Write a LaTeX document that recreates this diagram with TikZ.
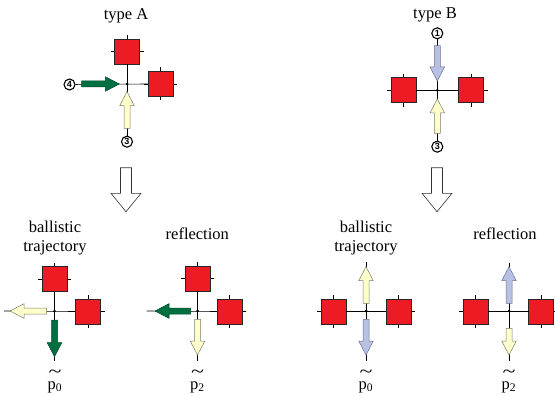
\documentclass[tikz,border=0pt]{standalone}
\usepackage{graphicx}
\usepackage{fontspec}
\setmainfont{Liberation Serif}
\newfontfamily\numfont{Liberation Sans}
\definecolor{boxred}{RGB}{237,28,36}
\definecolor{arrgreen}{RGB}{0,112,64}
\definecolor{greenedge}{RGB}{0,70,40}
\definecolor{arryellow}{RGB}{255,255,204}
\definecolor{yellowedge}{RGB}{125,125,105}
\definecolor{arrblue}{RGB}{184,192,228}
\definecolor{blueedge}{RGB}{110,115,140}
\tikzset{
 box/.style={draw=black!85, line width=0.6pt, fill=boxred, minimum size=25pt, inner sep=0pt, outer sep=0pt},
 wire/.style={line width=0.6pt, black},
 numc/.style={circle, draw, line width=1.1pt, fill=white, minimum size=11pt, inner sep=0pt, font=\numfont\fontsize{9}{9}\selectfont\bfseries},
 lbl/.style={font=\fontsize{16.5}{19.4}\selectfont, align=center},
 plbl/.style={font=\fontsize{16.5}{19.4}\selectfont, anchor=base, inner sep=0pt},
 dot/.style={circle, fill=black, minimum size=3pt, inner sep=0pt},
 hollow/.style={draw=black!80, line width=0.6pt, fill=white},
 pics/redbox/.style={code={
   \draw[wire] (-16.5,0) -- (16.5,0) (0,-16.5) -- (0,16.5);
   \node[box] (-box) at (0,0) {};
 }}
}
\newcommand\fatarrow[5]{%
 \begin{scope}[shift={#3},rotate=#4]
 \filldraw[fill=#1,draw=#2,line width=0.5pt] (0,-3) -- ({#5-14},-3) -- ({#5-14},-7.3) -- (#5,0) -- ({#5-14},7.3) -- ({#5-14},3) -- (0,3) -- cycle;
 \end{scope}}
\newcommand\hollowarrow[1]{%
 \filldraw[hollow] (#1-5.5,167.7) -- (#1+5.5,167.7) -- (#1+5.5,193.3) -- (#1+15,193.3) -- (#1,211.7) -- (#1-15,193.3) -- (#1-5.5,193.3) -- cycle;}
\newcommand\ptilde[1]{\begin{tabular}[b]{@{}c@{}}\scalebox{1.45}[1.1]{\textasciitilde}\\[-7.6pt]p\textsubscript{#1}\end{tabular}}
\begin{document}
\begin{tikzpicture}[x=1pt,y=-1pt]
\useasboundingbox (0,0) rectangle (555,396);
% ---------- type A ----------
\node[lbl] (ta) at (126,16) {type A};
\pic (a1) at (127,51.5) {redbox};
\pic (a2) at (160.5,84) {redbox};
\node[numc] (a4) at (69.5,84.5) {4};
\node[numc] (a3) at (127,141.7) {3};
\draw[wire] (a4) -- (a2-box.west);
\draw[wire] (a1-box.south) -- (a3);
\fatarrow{arrgreen}{greenedge}{(81.7,84)}{0}{37.6}
\fatarrow{arryellow}{yellowedge}{(127,128.3)}{90}{36.6}
\node[dot] (ca) at (127,84) {};
% ---------- type B ----------
\node[lbl] (tb) at (435,15) {type B};
\pic (b1) at (403.5,90.3) {redbox};
\pic (b2) at (471,90.3) {redbox};
\node[numc] (b1n) at (437.3,33.3) {1};
\node[numc] (b3n) at (437.3,146.7) {3};
\draw[wire] (b1-box.east) -- (b2-box.west);
\draw[wire] (b1n) -- (b3n);
\fatarrow{arrblue}{blueedge}{(437.3,45.7)}{-90}{35.3}
\fatarrow{arryellow}{yellowedge}{(437.3,133.3)}{90}{34.3}
\node[dot] (cb) at (437.3,90.3) {};
% ---------- hollow arrows ----------
\hollowarrow{126}
\hollowarrow{437}
% ---------- panel 1 ----------
\node[lbl] (t1) at (55,238) {ballistic\\trajectory};
\pic (p1a) at (54.5,279) {redbox};
\pic (p1b) at (88,311.5) {redbox};
\coordinate (p1l) at (4,311);
\coordinate (p1d) at (54.5,361);
\draw[wire] (p1l) -- (p1b-box.west);
\draw[wire] (p1a-box.south) -- (p1d);
\fatarrow{arryellow}{yellowedge}{(46.7,311)}{180}{36.7}
\fatarrow{arrgreen}{greenedge}{(54.5,320)}{-90}{36.7}
\node[dot] (c1) at (54.5,311) {};
\node[plbl] (l1) at (55,389) {\ptilde{0}};
% ---------- panel 2 ----------
\node[lbl] (t2) at (197.3,233.5) {reflection};
\pic (p2a) at (197.5,278.5) {redbox};
\pic (p2b) at (229.5,311.5) {redbox};
\coordinate (p2l) at (146.7,311);
\coordinate (p2d) at (197.5,361);
\draw[wire] (p2l) -- (p2b-box.west);
\draw[wire] (p2a-box.south) -- (p2d);
\fatarrow{arrgreen}{greenedge}{(190.7,311)}{180}{35.7}
\fatarrow{arryellow}{yellowedge}{(197.5,319.3)}{-90}{35.7}
\node[dot] (c2) at (197.5,311) {};
\node[plbl] (l2) at (197.5,389) {\ptilde{2}};
% ---------- panel 3 ----------
\node[lbl] (t3) at (366,238) {ballistic\\trajectory};
\pic (p3a) at (333.5,311.5) {redbox};
\pic (p3b) at (398.5,311.5) {redbox};
\coordinate (p3u) at (366,261.7);
\coordinate (p3d) at (366,361);
\draw[wire] (p3a-box.east) -- (p3b-box.west);
\draw[wire] (p3u) -- (p3d);
\fatarrow{arryellow}{yellowedge}{(366,303.3)}{90}{36.6}
\fatarrow{arrblue}{blueedge}{(366,319.3)}{-90}{35.7}
\node[dot] (c3) at (366,311) {};
\node[plbl] (l3) at (366,389) {\ptilde{0}};
% ---------- panel 4 ----------
\node[lbl] (t4) at (505,233.5) {reflection};
\pic (p4a) at (475.5,311.5) {redbox};
\pic (p4b) at (541,311.5) {redbox};
\coordinate (p4u) at (509,262.7);
\coordinate (p4d) at (509,361);
\draw[wire] (p4a-box.east) -- (p4b-box.west);
\draw[wire] (p4u) -- (p4d);
\fatarrow{arrblue}{blueedge}{(509,303.3)}{90}{36.6}
\fatarrow{arryellow}{yellowedge}{(509,328.3)}{-90}{26.7}
\node[dot] (c4) at (509,311) {};
\node[plbl] (l4) at (509,389) {\ptilde{2}};
\end{tikzpicture}
\end{document}
